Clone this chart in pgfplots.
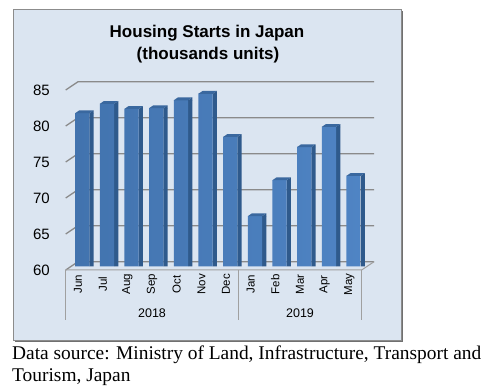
\documentclass[border=0pt]{standalone}
\usepackage{fontspec}
\setmainfont{Liberation Sans}
\newfontfamily\capserif{Liberation Serif}
\usepackage{pgfplots}
\usepackage{pgfplotstable}
\pgfplotsset{compat=1.18}
\definecolor{bg}{HTML}{DBE5F1}
\definecolor{framec}{HTML}{8C8C8C}
\definecolor{gridc}{HTML}{8A8A8A}
\definecolor{sepc}{HTML}{A0A0A0}
\definecolor{frontL}{HTML}{4273AE}
\definecolor{frontR}{HTML}{4F84C4}
\definecolor{sidec}{HTML}{2F5A8C}
\definecolor{topc}{HTML}{3A689F}
\pgfdeclareplotmark{bartop}{%
  \pgfsetfillcolor{topc}%
  \pgfpathmoveto{\pgfqpoint{-7.15pt}{-0.1pt}}%
  \pgfpathlineto{\pgfqpoint{7.15pt}{-0.1pt}}%
  \pgfpathlineto{\pgfqpoint{11.25pt}{2.7pt}}%
  \pgfpathlineto{\pgfqpoint{-3.05pt}{2.7pt}}%
  \pgfpathclose
  \pgfusepath{fill}%
  \pgfsetfillcolor{sidec}%
  \pgfpathmoveto{\pgfqpoint{7.15pt}{-0.2pt}}%
  \pgfpathlineto{\pgfqpoint{11.35pt}{2.7pt}}%
  \pgfpathlineto{\pgfqpoint{11.35pt}{-0.2pt}}%
  \pgfpathclose
  \pgfusepath{fill}%
}
\pgfplotstableread{
x v
0 81.3
1 82.6
2 81.9
3 82.0
4 83.1
5 84.0
6 78.0
7 67.0
8 72.0
9 76.6
10 79.4
11 72.6
}\housing
\begin{document}
\begin{tikzpicture}
\path (0pt,0pt) rectangle (488pt,390pt);
% frame with shadow
\fill[framec!80!black] (14.5pt,47.5pt) rectangle (402.5pt,378.5pt);
\filldraw[fill=bg, draw=framec, line width=1pt] (13pt,49pt) rectangle (401pt,380pt);
% title
\node[font=\bfseries\fontsize{17}{20}\selectfont] at (207pt,357pt) {Housing Starts in Japan};
\node[font=\bfseries\fontsize{17}{20}\selectfont] at (208pt,335pt) {(thousands units)};
\begin{axis}[
  at={(65.7pt,120pt)}, anchor=south west,
  scale only axis, width=296pt, height=180pt,
  xmin=-0.5, xmax=11.5, ymin=0, ymax=25,
  clip=false,
  axis line style={draw=none},
  tick style={draw=none},
  major tick length=0pt,
  /pgf/number format/assume math mode=true,
  xtick={0,1,...,11},
  xticklabels={Jun,Jul,Aug,Sep,Oct,Nov,Dec,Jan,Feb,Mar,Apr,May},
  xticklabel style={rotate=90, anchor=east, text width=28pt, align=center, inner sep=0pt,
    font=\fontsize{11.5}{13}\selectfont},
  ytick={0,5,...,25},
  yticklabels={60,65,70,75,80,85},
  yticklabel style={anchor=east, inner sep=0pt, xshift=-15.7pt, font=\fontsize{15}{16}\selectfont},
]
% gridlines (back wall) with diagonal ticks
\draw[gridc, line width=1.3pt] (axis cs:-0.5,0) -- (axis cs:0,1.15) -- (axis cs:12,1.15);
\draw[gridc, line width=1.3pt] (axis cs:-0.5,5) -- (axis cs:0,6.15) -- (axis cs:12,6.15);
\draw[gridc, line width=1.3pt] (axis cs:-0.5,10) -- (axis cs:0,11.15) -- (axis cs:12,11.15);
\draw[gridc, line width=1.3pt] (axis cs:-0.5,15) -- (axis cs:0,16.15) -- (axis cs:12,16.15);
\draw[gridc, line width=1.3pt] (axis cs:-0.5,20) -- (axis cs:0,21.15) -- (axis cs:12,21.15);
\draw[gridc, line width=1.3pt] (axis cs:-0.5,25) -- (axis cs:0,26.15) -- (axis cs:12,26.15);
% floor front and right edge
\draw[sepc, line width=1pt] (axis cs:-0.5,0) -- (axis cs:11.5,0) -- (axis cs:12,1.15);
% category separators
\draw[sepc, line width=1pt] (axis cs:-0.5,0) -- ++(0pt,-50pt);
\draw[sepc, line width=1pt] (axis cs:6.5,0) -- ++(0pt,-50pt);
\draw[sepc, line width=1pt] (axis cs:11.5,0) -- ++(0pt,-50pt);
\node[font=\fontsize{12.5}{14}\selectfont] at (axis cs:3,0) [yshift=-43pt] {2018};
\node[font=\fontsize{12.5}{14}\selectfont] at (axis cs:9,0) [yshift=-43pt] {2019};
% bars: side faces
\addplot[ybar, bar width=4.3pt, bar shift=9.25pt, fill=sidec, draw=none, xshift=4.2pt, yshift=3.5pt]
  table[x=x, y expr=\thisrow{v}-60] {\housing};
% bars: front faces
\addplot[ybar, bar width=14.3pt, bar shift=0pt, draw=none, left color=frontL, right color=frontR, xshift=4.2pt, yshift=3.5pt]
  table[x=x, y expr=\thisrow{v}-60] {\housing};
% bars: top faces
\addplot[only marks, mark=bartop, xshift=4.2pt, yshift=3.5pt]
  table[x=x, y expr=\thisrow{v}-60] {\housing};
\end{axis}
% caption
\node[anchor=base west, inner sep=0pt, font=\capserif\fontsize{19.4}{22}\selectfont] at (12pt,30pt) {Data source: Ministry of Land, Infrastructure, Transport and};
\node[anchor=base west, inner sep=0pt, font=\capserif\fontsize{19.4}{22}\selectfont] at (12pt,8.3pt) {Tourism, Japan};
\end{tikzpicture}
\end{document}
